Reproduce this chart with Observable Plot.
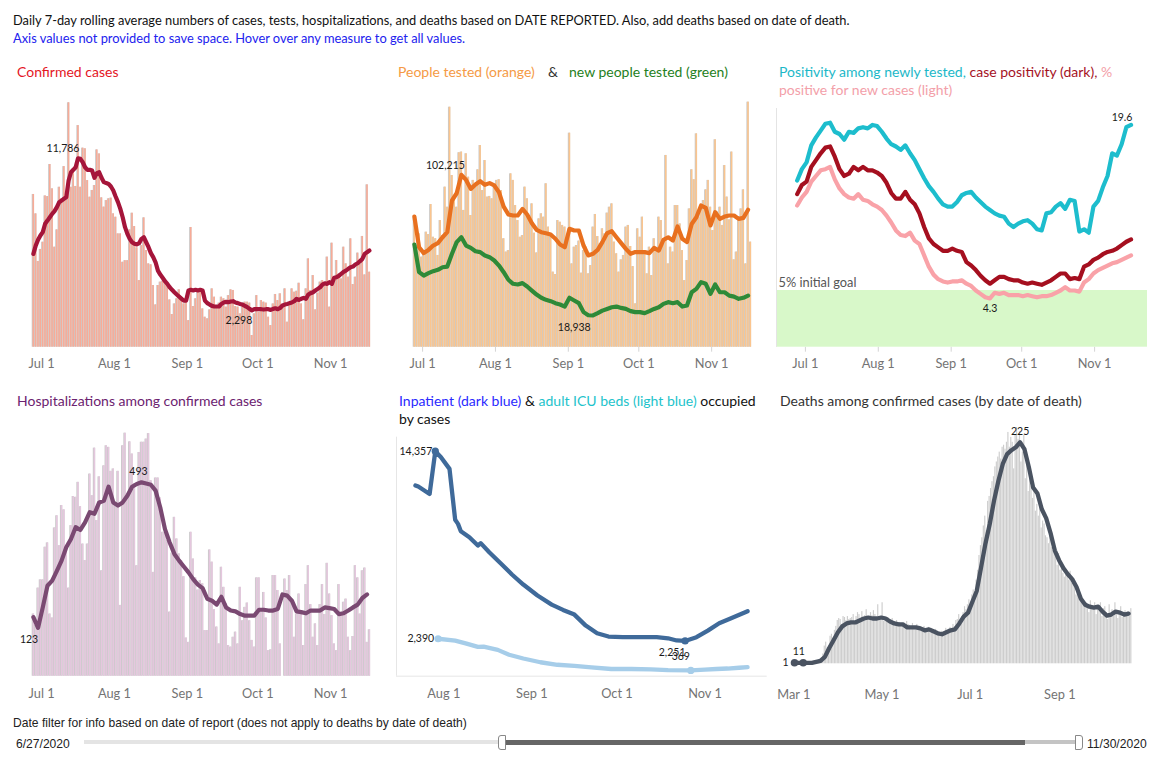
<!DOCTYPE html>
<html><head><meta charset="utf-8">
<script src="https://cdn.jsdelivr.net/npm/d3@7"></script>
<script src="https://cdn.jsdelivr.net/npm/@observablehq/plot@0.6"></script>
<style>
body{margin:0;background:#fff;font-family:Lato,"Noto Sans",sans-serif;}
#root{position:relative;width:1162px;height:757px;overflow:hidden;background:#fff;}
.t{position:absolute;white-space:nowrap;font-size:14px;line-height:18px;}
.p{position:absolute;}
.s{position:absolute;}
</style></head><body><div id="root"></div>
<script>
// ---------- DATA ----------
const reportStart = "2020-06-27";     // first day of date-of-report series
const deathStart = "2020-03-01";      // first day of date-of-death series
const reportTickDates = ["2020-07-01","2020-08-01","2020-09-01","2020-10-01","2020-11-01"];
const bedTickDates = ["2020-08-01","2020-09-01","2020-10-01","2020-11-01"];
const deathTickDates = ["2020-03-01","2020-05-01","2020-07-01","2020-09-01"];

// Confirmed cases (daily bars, 7-day average line), daily from Jun 27
const casesDaily = [9530,8320,5350,6100,6550,9440,9400,11400,9880,6240,
7320,9980,9260,11270,9200,15250,9980,10960,10030,13830,
9980,12420,12380,10400,9360,9780,10090,12310,12060,9320,
8740,9150,9260,9300,8320,8110,7070,7070,5300,5400,
5400,7320,8360,7530,6200,4160,6340,8070,6030,5200,
5140,3850,2640,3850,4060,4120,4060,3850,2950,2040,
2700,3020,3580,3160,2700,2950,1660,7470,2540,3020,
3540,3580,2390,1870,1770,2330,3640,3120,2500,2750,
3120,3020,2500,3220,3580,3540,2540,2500,2080,2700,
2810,2810,2750,730,2080,3220,2180,2910,2810,2750,
1870,1350,2700,3290,2910,3330,2600,3640,1560,2700,
3640,3430,3490,3990,2700,1710,3640,5510,3540,4470,
2330,3370,4060,4160,3950,5620,2500,6490,4200,5410,
4580,4260,6240,5200,4370,6760,3910,4370,5870,5160,
6910,4510,10130,4680];
const casesAvg = [5820,6340,6700,6970,7180,7700,7900,8110,8320,8490,
8740,9050,9150,9260,9360,10400,10920,11070,11230,11786,
11750,11540,11230,11070,11070,11020,10570,10860,10920,10570,
10300,10240,10190,10030,9780,9400,9050,8630,8110,7490,
7070,6760,6550,6450,6410,6490,6760,6860,6550,6240,
5870,5620,5300,4780,4530,4330,4120,3950,3740,3580,
3430,3290,3160,3020,2910,2910,3540,3580,3540,3580,
3540,3580,3540,2910,2750,2660,2580,2540,2540,2540,
2700,2790,2830,2810,2850,2870,2790,2750,2700,2660,
2580,2500,2390,2298,2370,2370,2370,2370,2350,2370,
2370,2330,2390,2430,2370,2450,2600,2660,2700,2750,
2790,2870,3020,2950,3020,3080,3020,3290,3370,3430,
3540,3640,3740,3910,3990,3950,4060,3950,4330,4370,
4450,4580,4700,4780,4890,4990,5030,5160,5240,5370,
5510,5820,5930,6030];

// People tested (daily bars), people tested & new people tested 7-day averages every 2 days
const testsDaily = [77100,60300,67200,53400,55400,68200,66800,84600,65200,64300,
54400,75100,66200,94900,83000,142300,101800,87000,83000,115300,
115700,81100,114700,100800,78100,98900,95900,105200,119600,92900,
110700,89000,89400,88000,95900,98900,99300,92900,64300,56400,
57300,102800,98900,84000,75100,65200,66200,94900,88000,78100,
85000,67600,55900,76100,79100,77100,96900,71200,66200,44500,
43100,75100,74100,72200,71200,64300,126900,49400,59300,60300,
62900,43900,57300,59300,43500,48400,71200,78700,65600,61300,
70200,67200,79500,83000,85000,62300,55400,44500,51800,54400,
71200,72200,59700,47800,25700,70200,65200,77100,55900,43500,
59300,42500,64300,58300,77100,75100,64300,113700,49400,59300,
56400,84000,84000,73100,57300,39500,51400,82000,105200,99300,
126500,77100,83000,87000,93300,98900,83000,69200,123000,80100,
83000,72200,107700,89000,75500,115700,51800,56400,77500,82000,
93300,49400,145300,62300];
const testsAvg = [77500,59300,55800,57700,60300,61700,65200,68200,87000,91300,
102215,99200,93900,96500,98500,96300,97300,95900,91900,83400,
78700,78100,78100,82000,78700,73500,69600,68200,67600,66800,
64300,60900,59300,70200,69200,69200,60300,54400,55400,57700,
62300,67600,68800,65200,61700,58300,55400,56400,56400,56400,
55800,58900,57300,63700,65200,63300,71600,64300,62300,73100,
77100,84000,82600,72200,80100,76100,77500,78100,78100,76100,
76700,81500];
const newTestedAvg = [60900,44500,42500,43900,45100,45900,47400,47800,55400,62300,
65200,60300,58900,56900,56400,54400,53400,51400,48400,44500,
40000,37600,37200,38000,36000,33600,31200,29300,28100,27300,
26100,25300,24100,29300,27700,26100,20800,18938,18800,20200,
21700,22700,23700,24100,23300,22700,21400,20800,20800,20200,
21400,22700,23700,25700,26700,26100,26700,24100,24700,32600,
34600,38600,37600,31600,37200,32600,32600,30600,30000,28700,
29300,30600];

// Positivity (%), every 2 days from Jun 27
const posNewlyTested = [14.7,15.7,16.3,17.8,18.5,19.1,19.7,19.8,19.0,18.8,
18.3,19.0,18.9,19.3,19.4,19.3,19.6,19.5,19.0,18.4,
17.9,17.7,17.4,17.8,17.1,16.5,15.7,14.9,14.2,13.7,
13.1,12.6,12.4,12.4,12.8,13.4,13.6,13.7,13.2,12.8,
12.4,12.1,11.8,11.6,11.5,10.9,10.6,10.9,11.1,11.2,
10.9,10.4,10.3,11.8,11.9,12.4,12.7,12.2,13.0,12.9,
10.2,10.4,10.1,12.4,12.9,14.1,15.1,17.1,16.9,17.9,
19.4,19.6];
const posCase = [13.5,14.3,14.6,15.9,16.5,17.1,17.6,17.7,16.8,15.7,
15.1,15.3,15.9,15.6,15.9,15.6,15.6,15.4,15.1,14.5,
13.6,13.1,13.1,13.7,13.0,12.6,11.8,10.6,9.6,9.1,
8.8,8.5,8.5,8.7,8.5,8.4,7.5,7.2,6.8,6.3,
5.9,5.6,5.9,6.2,6.2,6.0,5.9,5.9,5.7,5.6,
5.7,5.6,5.5,5.7,5.9,6.2,6.5,6.5,6.0,6.1,
6.0,7.1,7.3,7.7,7.9,8.2,8.4,8.5,8.7,9.0,
9.3,9.5];
const posNewCases = [12.5,13.2,13.7,14.6,15.1,15.6,15.7,15.9,14.8,14.0,
13.5,13.2,13.1,13.5,13.0,12.9,12.6,12.4,12.1,11.6,
11.0,10.3,9.9,9.8,10.1,9.4,9.1,8.1,7.1,6.4,
6.0,5.8,5.7,5.8,5.8,5.9,5.6,5.4,5.0,4.7,
4.4,4.3,4.8,4.7,4.8,4.6,4.6,4.6,4.5,4.6,
4.5,4.4,4.5,4.5,4.6,4.8,5.0,5.3,5.0,5.0,
4.9,5.7,6.0,6.5,6.8,7.0,7.2,7.4,7.5,7.7,
7.9,8.1];
const goalPct = 5;

// Hospitalizations (daily bars), 7-day average every 2 days
const hospDaily = [158,129,224,245,245,328,339,158,148,377,
408,332,434,423,328,224,383,457,455,493,
431,336,294,336,514,459,580,396,507,268,
535,586,582,521,527,434,521,180,586,618,
457,596,565,489,281,569,595,595,603,617,
497,264,504,504,453,366,366,345,163,313,
404,349,311,294,253,97,86,366,298,250,
219,243,235,116,116,321,290,169,125,82,
277,226,184,78,74,99,112,82,226,141,
175,186,141,91,74,250,250,167,213,148,
65,67,256,256,218,82,0,247,218,256,
188,99,158,209,158,78,233,281,182,99,
133,78,182,233,157,287,209,154,82,65,
233,154,188,196,99,65,101,281,250,158,
268,275,86,118];
const hospAvg = [150,123,175,230,243,268,294,328,349,379,
372,391,417,413,442,446,482,442,434,442,
459,482,489,493,490,487,472,429,374,340,
311,294,279,264,247,233,224,197,192,182,
202,175,167,165,158,154,154,154,169,169,
167,167,171,208,205,192,165,163,160,167,
167,167,175,173,171,158,160,167,175,182,
199,208];

// Inpatient beds and adult ICU beds occupied by cases
const inpatientDates = ["2020-07-22","2020-07-23","2020-07-27","2020-07-29","2020-07-31","2020-08-03","2020-08-05","2020-08-06","2020-08-07","2020-08-10","2020-08-13","2020-08-14","2020-08-17","2020-08-21","2020-08-25","2020-08-29","2020-09-03","2020-09-08","2020-09-12","2020-09-16","2020-09-20","2020-09-24","2020-09-28","2020-10-03","2020-10-10","2020-10-15","2020-10-19","2020-10-22","2020-10-25","2020-10-29","2020-11-02","2020-11-06","2020-11-10","2020-11-16"];
const inpatientBeds = [12170,12100,11630,14357,13970,13230,9980,9720,9250,8870,8340,8490,7910,7210,6490,5850,5150,4570,4230,3930,3230,2740,2530,2490,2490,2490,2420,2280,2251,2490,2910,3380,3680,4150];
const icuDates = ["2020-07-30","2020-08-05","2020-08-09","2020-08-13","2020-08-15","2020-08-20","2020-08-24","2020-08-29","2020-09-04","2020-09-10","2020-09-16","2020-09-22","2020-09-29","2020-10-06","2020-10-13","2020-10-19","2020-10-27","2020-11-01","2020-11-05","2020-11-09","2020-11-13","2020-11-16"];
const icuBeds = [2390,2270,2080,1870,1890,1680,1370,1130,890,730,660,560,460,460,440,390,369,415,460,490,540,580];

// Deaths by date of death (daily bars from Mar 1), 7-day average every 3 days
const deathsDaily = [1,0,0,1,1,0,1,0,1,1,
1,2,1,2,3,2,3,4,5,6,
10,18,22,16,14,28,30,26,34,38,
44,46,45,40,48,47,44,48,45,46,
47,50,43,48,52,50,46,53,45,49,
55,47,44,52,49,54,50,45,60,48,
45,62,43,46,44,47,42,45,46,43,
40,44,41,42,38,40,42,38,43,40,
39,37,41,38,36,40,35,38,37,33,
38,32,35,37,34,36,32,34,35,31,
30,28,33,32,31,36,30,35,37,33,
40,38,44,45,50,42,48,52,58,55,
60,65,58,70,75,72,85,95,110,120,
128,140,150,135,165,170,178,185,190,200,
205,210,215,208,220,222,218,225,235,220,
230,225,198,232,240,228,236,205,215,232,
188,210,175,195,180,168,175,155,162,150,
160,138,145,142,130,128,122,135,118,115,
120,108,100,112,95,98,92,88,96,90,
85,94,82,86,78,70,72,68,65,64,
60,58,62,56,52,64,58,55,62,50,
57,54,62,48,56,58,52,45,60,50,
55,48,62,50,46,52,58,47,50,54,
49,53,48,56];
const deathsAvg = [1,1,1,1,1,2,3,7,16,24,
32,38,41,42,42,44,46,47,46,46,
47,46,43,41,40,40,37,37,37,36,
34,35,33,31,30,32,34,35,41,48,
52,63,74,98,122,142,166,186,203,213,
217,220,225,218,200,179,173,157,148,133,
115,105,97,91,86,78,66,60,58,57,
58,53,49,50,53,52,50,51];

// Scale extents (domains)
const reportDomain = ["2020-06-27","2020-11-18"];
const posDomain = ["2020-06-18T17:00Z","2020-11-23T12:00Z"];
const bedDomain = ["2020-07-15T08:00Z","2020-11-22T22:00Z"];
const deathDomain = ["2020-02-19T10:00Z","2020-10-31T14:00Z"];
const casesMax = 15600, testsMax = 148250, posMax = 21.05, hospMax = 630, bedsMax = 15250, deathsMax = 239;

// ---------- HELPERS ----------
const DAY = 864e5;
const D = s => new Date(s);
function seq(start, vals, step = 1, shift = 0) {
  const t0 = +D(start);
  return vals.map((v, i) => ({date: new Date(t0 + (i * step + shift) * DAY), i, v}));
}
const bars = vals => seq(reportStart, vals);
const x2 = d => new Date(+d.date + DAY);
const fmt = d3.format(",");
const font = "Lato, 'Noto Sans', sans-serif";

function chart(o) {
  const svg = Plot.plot({
    width: o.w, height: o.h,
    marginLeft: o.ml, marginRight: o.mr, marginTop: o.mt, marginBottom: o.mb,
    style: {fontFamily: font, fontSize: "12.8px", color: "#747474", background: "transparent", overflow: "visible"},
    x: {type: "utc", domain: o.xdom.map(D), ticks: o.ticks.map(D), tickFormat: d3.utcFormat("%b %-d"),
        tickSize: o.tickSize || 0, tickPadding: o.tickPad, label: null},
    y: {domain: [0, o.ymax], axis: null},
    marks: o.marks
  });
  svg.querySelectorAll('[aria-label^="x-axis"] line, [aria-label^="x-axis"] path')
    .forEach(el => el.setAttribute("stroke", "#d4d4d4"));
  const div = document.createElement("div");
  div.className = "p";
  div.style.left = o.left + "px"; div.style.top = o.top + "px";
  div.appendChild(svg);
  root.appendChild(div);
}
const root = document.getElementById("root");
function txt(html, left, top, style = "") {
  const d = document.createElement("div");
  d.className = "t"; d.style.left = left + "px"; d.style.top = top + "px";
  d.setAttribute("style", d.getAttribute("style") + ";" + style);
  d.innerHTML = html; root.appendChild(d);
}
const lab = (data, o) => Plot.text(data, {x: "date", y: "v", text: o.text || (d => fmt(d.v)), dx: o.dx || 0, dy: o.dy || 0,
  textAnchor: o.anchor || "middle", fontSize: 10.5, fill: "#1a1a1a", fontFamily: font});
const line = (data, stroke, w = 4.2) => Plot.line(data, {x: "date", y: "v", stroke, strokeWidth: w, strokeLinejoin: "round", strokeLinecap: "round"});
function stripedBars(vals, color) {
  const data = bars(vals);
  return [
    Plot.rectY(data, {x1: "date", x2, y: "v", fill: "#c9c9c9"}),
    Plot.rectY(data, {x1: "date", x2, y: "v", fill: color, insetLeft: 0.8})
  ];
}

// ---------- TEXTS ----------
txt("Daily 7-day rolling average numbers of cases, tests, hospitalizations, and deaths based on DATE REPORTED. Also, add deaths based on date of death.", 13, 11, "font-size:12.85px;color:#111");
txt("Axis values not provided to save space. Hover over any measure to get all values.", 13, 29, "font-size:12.85px;color:#2222ee");
txt("Confirmed cases", 17, 63, "color:#e4161f");
txt("People tested (orange)", 398, 63, "color:#f59a45");
txt("&amp;", 548, 63, "color:#333");
txt("new people tested (green)", 569, 63, "color:#1f7f22");
txt('<span style="color:#1cb8c8">Positivity among newly tested,</span> <span style="color:#a5121f">case positivity (dark),</span> <span style="color:#f3a0a9">%<br>positive for new cases (light)</span>', 779, 63);
txt("Hospitalizations among confirmed cases", 17, 392, "color:#6c2270");
txt('<span style="color:#2a2aff">Inpatient (dark blue)</span> <span style="color:#111">&amp;</span> <span style="color:#1dc3cb">adult ICU beds (light blue)</span> <span style="color:#111">occupied<br>by cases</span>', 399, 392);
txt("Deaths among confirmed cases (by date of death)", 780, 392, "color:#333");

// ---------- PANEL 1: confirmed cases ----------
const caseLine = seq(reportStart, casesAvg, 1, 0.5);
chart({left: 0, top: 90, w: 390, h: 290, ml: 31.7, mr: 19.9, mt: 6.7, mb: 33.3, xdom: reportDomain, ticks: reportTickDates, tickPad: 12, ymax: casesMax,
  marks: [...stripedBars(casesDaily, "#f8ab97"), line(caseLine, "#a5153a"),
    lab([caseLine[19]], {dx: -15, dy: -10}), lab([caseLine[93]], {dx: -13, dy: 10})]});

// ---------- PANEL 2: people tested ----------
const testLine = seq(reportStart, testsAvg, 2, 0.5);
const newLine = seq(reportStart, newTestedAvg, 2, 0.5);
chart({left: 390, top: 90, w: 380, h: 290, ml: 22.7, mr: 18.9, mt: 6.7, mb: 33.3, xdom: reportDomain, ticks: reportTickDates, tickSize: 5, tickPad: 7, ymax: testsMax,
  marks: [...stripedBars(testsDaily, "#fbc58e"), line(testLine, "#e8701f"), line(newLine, "#2e8a38"),
    lab([testLine[10]], {dx: -16, dy: -9}), lab([newLine[37]], {dx: -14, dy: 12})]});

// ---------- PANEL 3: positivity ----------
const cyan = seq(reportStart, posNewlyTested, 2, 0.5);
const dark = seq(reportStart, posCase, 2, 0.5);
const light = seq(reportStart, posNewCases, 2, 0.5);
const goal = [{x1: D(posDomain[0]), x2: D(posDomain[1]), y1: 0, y2: goalPct}];
chart({left: 770, top: 100, w: 392, h: 280, ml: 6, mr: 15, mt: 8, mb: 33.3, xdom: posDomain, ticks: reportTickDates, tickSize: 5, tickPad: 7, ymax: posMax,
  marks: [Plot.rect(goal, {x1: "x1", x2: "x2", y1: "y1", y2: "y2", fill: "#d8f8c9"}),
    Plot.ruleX([D(posDomain[0])], {stroke: "#e4e4e4"}),
    Plot.text(goal, {x: "x1", y: "y2", text: d => d.y2 + "% initial goal", textAnchor: "start", dx: 2, dy: -8, fontSize: 12.8, fill: "#555", fontFamily: font}),
    line(light, "#f9a2a8"), line(dark, "#a50f1f"), line(cyan, "#1dbdcd"),
    lab([cyan[71]], {text: d => d.v.toFixed(1), dx: -9, dy: -7}), lab([light[41]], {text: d => d.v.toFixed(1), dy: 10})]});

// ---------- PANEL 4: hospitalizations ----------
const hospLine = seq(reportStart, hospAvg, 2, 0.5);
chart({left: 0, top: 420, w: 390, h: 290, ml: 31.7, mr: 19.9, mt: 8, mb: 34.3, xdom: reportDomain, ticks: reportTickDates, tickPad: 13, ymax: hospMax,
  marks: [...stripedBars(hospDaily, "#e5c7de"), line(hospLine, "#7a4972"),
    lab([hospLine[23]], {dx: -3, dy: -11}), lab([hospLine[1]], {dx: -9, dy: 12})]});

// ---------- PANEL 5: beds ----------
const inp = inpatientDates.map((s, i) => ({date: D(s), v: inpatientBeds[i]}));
const icu = icuDates.map((s, i) => ({date: D(s), v: icuBeds[i]}));
const inpMax = inp.filter(d => d.v === d3.max(inpatientBeds));
const inpMin = inp.filter(d => d.v === d3.min(inpatientBeds));
const icuMin = icu.filter(d => d.v === d3.min(icuBeds));
chart({left: 390, top: 425, w: 380, h: 285, ml: 6, mr: 3.3, mt: 11.7, mb: 34.3, xdom: bedDomain, ticks: bedTickDates, tickPad: 13, ymax: bedsMax,
  marks: [Plot.ruleX([D(bedDomain[0])], {stroke: "#e6e6e6"}), Plot.ruleY([0], {stroke: "#e6e6e6"}),
    line(icu, "#a6cde9", 4.3), line(inp, "#3f6a9a", 4.3),
    Plot.dot([icu[0], ...icuMin], {x: "date", y: "v", r: 3.6, fill: "#a6cde9"}),
    Plot.dot([...inpMax, ...inpMin], {x: "date", y: "v", r: 3.6, fill: "#3f6a9a"}),
    lab(inpMax, {anchor: "end", dx: -3, dy: 0}), lab([icu[0]], {anchor: "end", dx: -4, dy: 0}),
    lab(inpMin, {dx: -13, dy: 12}), lab(icuMin, {dx: -10, dy: -14})]});

// ---------- PANEL 6: deaths by date of death ----------
const dBars = seq(deathStart, deathsDaily);
const dLine = seq(deathStart, deathsAvg, 3, 0.5);
chart({left: 770, top: 420, w: 392, h: 290, ml: 8, mr: 15, mt: 8, mb: 46.7, xdom: deathDomain, ticks: deathTickDates, tickPad: 26, ymax: deathsMax,
  marks: [Plot.rectY(dBars, {x1: "date", x2, y: "v", fill: "#cdcdcd", insetRight: 0.3}),
    line(dLine, "#4a5361", 4.3),
    Plot.dot([dLine[0], dLine[2]], {x: "date", y: "v", r: 3.8, fill: "#4a5361"}),
    lab([dLine[52]], {dy: -11}), lab([dLine[0]], {anchor: "end", dx: -6}),
    lab([dLine[1]], {text: () => "11", dy: -11})]});

// ---------- DATE FILTER (slider) ----------
const narrow = "font-family:'Liberation Sans Narrow','Liberation Sans',Arial,sans-serif;font-size:12.1px;color:#222";
txt("Date filter for info based on date of report (does not apply to deaths by date of death)", 13, 714, narrow);
txt("6/27/2020", 16, 735, narrow);
txt("11/30/2020", 1087, 735, narrow);
function box(l, t, w, h, css) { const d = document.createElement("div"); d.className = "s";
  d.setAttribute("style", `left:${l}px;top:${t}px;width:${w}px;height:${h}px;${css}`); root.appendChild(d); }
box(84, 740, 996, 4, "background:#e4e4e4");
box(505, 739.5, 520, 5, "background:#666");
box(1025, 740, 52, 4, "background:#c4c4c4");
box(498, 735, 6, 13, "background:#fff;border:1px solid #888;border-radius:3px 0 0 3px");
box(1075, 735, 6, 13, "background:#fff;border:1px solid #888;border-radius:0 3px 3px 0");
</script></body></html>
